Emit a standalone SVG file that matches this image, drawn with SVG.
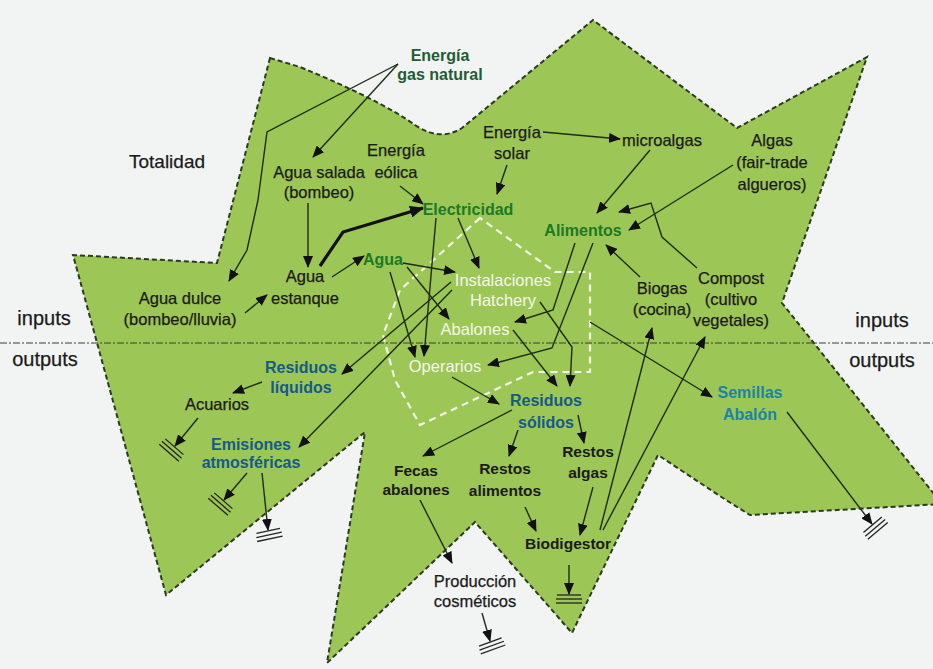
<svg xmlns="http://www.w3.org/2000/svg" xmlns:xlink="http://www.w3.org/1999/xlink" width="933" height="669" viewBox="0 0 933 669">
<style>
text{font-family:"Liberation Sans",Arial,sans-serif;text-anchor:middle}
.k{font-size:16.5px;fill:#1b1b1b;stroke:#1b1b1b;stroke-width:0.25}
.kb{font-size:15.5px;font-weight:bold;fill:#1b1b1b}
.big{font-size:20px;fill:#1b1b1b;stroke:#1b1b1b;stroke-width:0.25}
.gd{font-size:16px;font-weight:bold;fill:#1f5c33}
.gr{font-size:16px;font-weight:bold;fill:#1b7a25}
.bl{font-size:16px;font-weight:bold;fill:#175a88}
.tl{font-size:16px;font-weight:bold;fill:#1b84a4}
.wh{font-size:16.5px;fill:#f5f6ea}
.c{fill:none;stroke:#1e2d16;stroke-width:1.4;marker-end:url(#ah)}
.gnd line{stroke:#222;stroke-width:1.3}
</style>
<defs>
<marker id="ah" viewBox="0 0 12 10" refX="11" refY="5" markerWidth="12" markerHeight="10" markerUnits="userSpaceOnUse" orient="auto"><path d="M0,0 L12,5 L0,10 z" fill="#111"/></marker>
<marker id="ahb" viewBox="0 0 14 12" refX="13" refY="6" markerWidth="14" markerHeight="12" markerUnits="userSpaceOnUse" orient="auto"><path d="M0,0 L14,6 L0,12 z" fill="#111"/></marker>
<g id="gnd" class="gnd"><line x1="-12" y1="1" x2="12" y2="1"/><line x1="-13" y1="5" x2="13" y2="5"/><line x1="-13" y1="9" x2="13" y2="9"/></g>
</defs>
<rect width="933" height="669" fill="#f2f3f3"/>
<g id="totalidad">
<path d="M270,58 L300,67 Q380,100 415,125 Q440,142 462,128 L593,20 L737,128 L867,57 L782,303 L942,504 L750,515 L726,500 L658,455 L572,633 L475,522 L327,663 L365,432 L166,595 L73,255 L217,263 Z" fill="#9cc656" stroke="#2a3c20" stroke-width="2" stroke-dasharray="5,3"/>
<text class="big" x="167" y="168" style="font-size:19px">Totalidad</text>
</g>
<g id="hatchery-box">
<path d="M480,218 L400,290 L383,335 L395,380 L420,425 L533,372 L590,372 L590,272 L555,272 Z" fill="none" stroke="#f2f5e4" stroke-width="2.2" stroke-dasharray="7,5"/>
</g>
<g id="io-line">
<line x1="0" y1="343" x2="933" y2="343" stroke="#3d3d3d" stroke-width="1.1" stroke-dasharray="7,2,2,2"/>
<text class="big" x="44" y="325">inputs</text>
<text class="big" x="45" y="366">outputs</text>
<text class="big" x="882" y="327">inputs</text>
<text class="big" x="882" y="367">outputs</text>
</g>
<g id="connectors">
<path class="c" d="M398,64 L267,132 L258,200 L247,250 L229,281"/>
<path class="c" d="M398,64 L313,157"/>
<path class="c" d="M308,203 L308,267"/>
<path class="c" d="M245,313 L267,295"/>
<path class="c" d="M332,277 L364,256"/>
<path d="M320,266 L343,232 L423,208" fill="none" stroke="#111" stroke-width="3.2" marker-end="url(#ahb)"/>
<path class="c" d="M400,186 L423,204"/>
<path class="c" d="M507,165 L497,194"/>
<path class="c" d="M543,132 L620,139"/>
<path class="c" d="M650,150 L597,213"/>
<path class="c" d="M733,165 L629,230"/>
<path class="c" d="M697,268 L662,237 L651,203 L619,212"/>
<path class="c" d="M640,277 L606,245"/>
<path class="c" d="M458,218 L479,268"/>
<path class="c" d="M436,218 L424,356"/>
<path class="c" d="M390,272 L415,357"/>
<path class="c" d="M403,263 L455,272"/>
<path class="c" d="M407,267 L449,319"/>
<path class="c" d="M451,282 L342,374"/>
<path class="c" d="M452,290 L299,447"/>
<path class="c" d="M575,243 L553,310 L515,322"/>
<path class="c" d="M593,243 L552,348 L488,365"/>
<path class="c" d="M540,302 L572,347 L570,386"/>
<path class="c" d="M513,330 L557,386"/>
<path class="c" d="M452,377 L499,404"/>
<path class="c" d="M590,322 L712,397"/>
<path class="c" d="M262,382 L233,393"/>
<path class="c" d="M198,418 L175,446"/>
<path class="c" d="M247,473 L224,500"/>
<path class="c" d="M262,473 L268,530"/>
<path class="c" d="M512,410 L423,456"/>
<path class="c" d="M518,430 L509,456"/>
<path class="c" d="M578,415 L584,443"/>
<path class="c" d="M420,500 L452,563"/>
<path class="c" d="M525,507 L536,531"/>
<path class="c" d="M593,487 L580,535"/>
<path class="c" d="M569,565 L569,594"/>
<path class="c" d="M482,613 L490,641"/>
<path class="c" d="M600,530 L652,328"/>
<path class="c" d="M603,530 L705,337"/>
<path class="c" d="M787,412 L872,524"/>
<use xlink:href="#gnd" transform="translate(175,446) rotate(41)"/>
<use xlink:href="#gnd" transform="translate(224,500) rotate(41)"/>
<use xlink:href="#gnd" transform="translate(268,530) rotate(-12)"/>
<use xlink:href="#gnd" transform="translate(569,594)"/>
<use xlink:href="#gnd" transform="translate(490,641) rotate(-20)"/>
<use xlink:href="#gnd" transform="translate(872,524) rotate(-40)"/>
</g>
<g id="energia-gas"><text class="gd" x="440" y="61">Energía</text><text class="gd" x="440" y="80">gas natural</text></g>
<g id="energia-eolica"><text class="k" x="396" y="156">Energía</text><text class="k" x="396" y="178">eólica</text></g>
<g id="energia-solar"><text class="k" x="512" y="138">Energía</text><text class="k" x="512" y="159">solar</text></g>
<g id="microalgas"><text class="k" x="662" y="146">microalgas</text></g>
<g id="algas"><text class="k" x="772" y="146">Algas</text><text class="k" x="772" y="168">(fair-trade</text><text class="k" x="772" y="190">algueros)</text></g>
<g id="agua-salada"><text class="k" x="319" y="178">Agua salada</text><text class="k" x="319" y="198">(bombeo)</text></g>
<g id="electricidad"><text class="gr" x="468" y="215">Electricidad</text></g>
<g id="agua-estanque"><text class="k" x="305" y="282">Agua</text><text class="k" x="305" y="304">estanque</text></g>
<g id="agua"><text class="gr" x="383" y="265">Agua</text></g>
<g id="agua-dulce"><text class="k" x="180" y="304">Agua dulce</text><text class="k" x="180" y="325">(bombeo/lluvia)</text></g>
<g id="instalaciones"><text class="wh" x="503" y="286">Instalaciones</text><text class="wh" x="503" y="306">Hatchery</text></g>
<g id="abalones"><text class="wh" x="475" y="335">Abalones</text></g>
<g id="operarios"><text class="wh" x="445" y="372">Operarios</text></g>
<g id="alimentos"><text class="gr" x="583" y="236">Alimentos</text></g>
<g id="biogas"><text class="k" x="662" y="294">Biogas</text><text class="k" x="662" y="315">(cocina)</text></g>
<g id="compost"><text class="k" x="731" y="284">Compost</text><text class="k" x="731" y="305">(cultivo</text><text class="k" x="731" y="326">vegetales)</text></g>
<g id="residuos-liquidos"><text class="bl" x="301" y="373">Residuos</text><text class="bl" x="301" y="393">líquidos</text></g>
<g id="acuarios"><text class="k" x="217" y="410">Acuarios</text></g>
<g id="emisiones"><text class="bl" x="251" y="450">Emisiones</text><text class="bl" x="251" y="468">atmosféricas</text></g>
<g id="residuos-solidos"><text class="bl" x="546" y="406">Residuos</text><text class="bl" x="546" y="428">sólidos</text></g>
<g id="semillas"><text class="tl" x="750" y="398">Semillas</text><text class="tl" x="750" y="420">Abalón</text></g>
<g id="fecas"><text class="kb" x="416" y="476">Fecas</text><text class="kb" x="416" y="495">abalones</text></g>
<g id="restos-alimentos"><text class="kb" x="505" y="474">Restos</text><text class="kb" x="505" y="496">alimentos</text></g>
<g id="restos-algas"><text class="kb" x="588" y="457">Restos</text><text class="kb" x="588" y="478">algas</text></g>
<g id="biodigestor"><text class="kb" x="568" y="549">Biodigestor</text></g>
<g id="produccion"><text class="k" x="475" y="587">Producción</text><text class="k" x="475" y="607">cosméticos</text></g>
</svg>
